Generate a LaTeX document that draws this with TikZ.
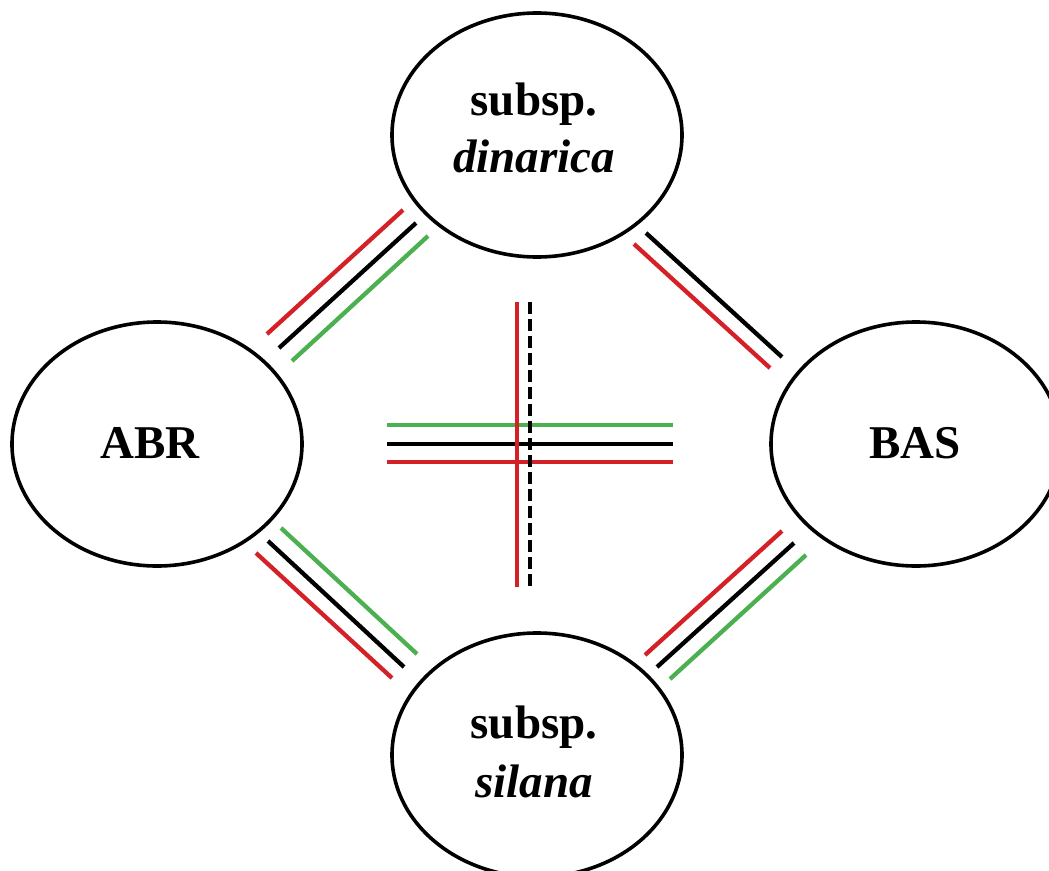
\documentclass[tikz,border=0pt]{standalone}
\usepackage{fontspec}
\setmainfont{Liberation Serif}
\usetikzlibrary{shapes.geometric}
\definecolor{lred}{RGB}{212,33,39}
\definecolor{lgreen}{RGB}{76,175,80}
\begin{document}
\begin{tikzpicture}[x=1pt,y=-1pt,
  taxon/.style={draw=black,line width=3.6pt,ellipse,inner sep=0pt,minimum width=290pt,minimum height=244pt},
  lab/.style={anchor=base,inner sep=0pt,font=\fontsize{47}{57}\selectfont\bfseries},
  rl/.style={draw=lred,line width=4.3pt},
  bl/.style={draw=black,line width=4.3pt},
  gl/.style={draw=lgreen,line width=4.3pt},
  dl/.style={draw=black,line width=4.3pt,dash pattern=on 12pt off 5pt}]
\clip (0,0) rectangle (1049,870);
\fill[white] (0,0) rectangle (1049,870);
% ellipses
\node[taxon] (din) at (537,135) {};
\node[taxon] (abr) at (157,444) {};
\node[taxon] (bas) at (916,444) {};
\node[taxon] (sil) at (537,755) {};
% labels
\node[lab] (dinA) at (534,115) {subsp.};
\node[lab] (dinB) at (534,172) {\textit{dinarica}};
\node[lab] (abrL) at (150,458) {ABR};
\node[lab] (basL) at (915,458) {BAS};
\node[lab] (silA) at (534,738) {subsp.};
\node[lab] (silB) at (534,797) {\textit{silana}};
% upper-left group
\coordinate (ulr1) at (267,334); \coordinate (ulr2) at (403,210);
\coordinate (ulb1) at (279,348); \coordinate (ulb2) at (416,223);
\coordinate (ulg1) at (292,361); \coordinate (ulg2) at (428,236);
\draw[rl] (ulr1) -- (ulr2);
\draw[bl] (ulb1) -- (ulb2);
\draw[gl] (ulg1) -- (ulg2);
% upper-right group
\coordinate (urb1) at (646,233); \coordinate (urb2) at (782,357);
\coordinate (urr1) at (634,244); \coordinate (urr2) at (770,368);
\draw[bl] (urb1) -- (urb2);
\draw[rl] (urr1) -- (urr2);
% lower-left group
\coordinate (llg1) at (281,528); \coordinate (llg2) at (417,654);
\coordinate (llb1) at (268,541); \coordinate (llb2) at (404,667);
\coordinate (llr1) at (256,553); \coordinate (llr2) at (392,678);
\draw[gl] (llg1) -- (llg2);
\draw[bl] (llb1) -- (llb2);
\draw[rl] (llr1) -- (llr2);
% lower-right group
\coordinate (lrr1) at (645,655); \coordinate (lrr2) at (782,531);
\coordinate (lrb1) at (657,667); \coordinate (lrb2) at (794,543);
\coordinate (lrg1) at (670,679); \coordinate (lrg2) at (806,555);
\draw[rl] (lrr1) -- (lrr2);
\draw[bl] (lrb1) -- (lrb2);
\draw[gl] (lrg1) -- (lrg2);
% central cross
\coordinate (hg1) at (387,425); \coordinate (hg2) at (673,425);
\coordinate (hb1) at (387,444); \coordinate (hb2) at (673,444);
\coordinate (hr1) at (387,462); \coordinate (hr2) at (673,462);
\coordinate (vr1) at (517,302); \coordinate (vr2) at (517,587);
\coordinate (vd1) at (530,302); \coordinate (vd2) at (530,587);
\draw[gl] (hg1) -- (hg2);
\draw[bl] (hb1) -- (hb2);
\draw[rl] (hr1) -- (hr2);
\draw[rl] (vr1) -- (vr2);
\draw[dl] (vd1) -- (vd2);
\end{tikzpicture}
\end{document}
